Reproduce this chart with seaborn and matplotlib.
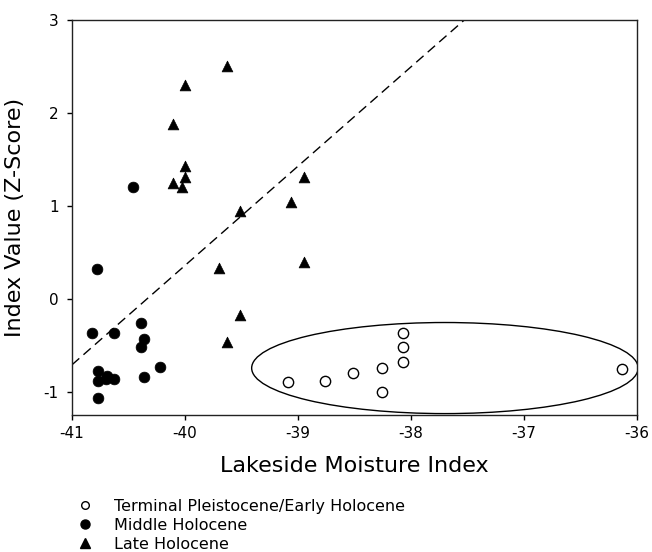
import numpy as np
import pandas as pd
import matplotlib
matplotlib.use("Agg")
import matplotlib.pyplot as plt
from matplotlib.lines import Line2D
from matplotlib.patches import Ellipse
import seaborn as sns

# ---- data ----
early_x = [-39.09, -38.76, -38.51, -38.26, -38.26, -38.07, -38.07, -38.07, -36.13]
early_y = [-0.90, -0.88, -0.80, -0.74, -1.00, -0.68, -0.52, -0.37, -0.75]

middle_x = [-40.775, -40.82, -40.63, -40.39, -40.36, -40.39, -40.22, -40.36,
            -40.77, -40.77, -40.69, -40.70, -40.63, -40.77, -40.456]
middle_y = [0.32, -0.37, -0.37, -0.255, -0.435, -0.515, -0.73, -0.84,
            -0.78, -0.88, -0.83, -0.86, -0.86, -1.07, 1.205]

late_x = [-39.63, -40.0, -40.11, -40.0, -40.0, -40.11, -40.03, -39.51,
          -39.06, -38.95, -39.70, -38.95, -39.51, -39.63]
late_y = [2.50, 2.30, 1.88, 1.43, 1.31, 1.25, 1.20, 0.94,
          1.04, 1.31, 0.33, 0.40, -0.17, -0.46]

line_x = [-41.0, -37.5]
line_y = [-0.71, 3.03]

ellipse_center = (-37.70, -0.745)
ellipse_width = 3.42
ellipse_height = 0.98

labels = ["Terminal Pleistocene/Early Holocene", "Middle Holocene", "Late Holocene"]
x_ticks = [-41, -40, -39, -38, -37, -36]
y_ticks = [-1, 0, 1, 2, 3]

sns.set_theme(style="white")
plt.rcParams['font.family'] = ['DejaVu Sans']
plt.rcParams['text.color'] = 'black'
plt.rcParams['axes.labelcolor'] = 'black'
plt.rcParams['xtick.color'] = 'black'
plt.rcParams['ytick.color'] = 'black'
plt.rcParams['xtick.labelcolor'] = 'black'
plt.rcParams['ytick.labelcolor'] = 'black'

fig = plt.figure(figsize=(6.52, 5.52), dpi=100)
ax = fig.add_axes([0.1104, 0.2482, 0.8666, 0.7156])

df_e = pd.DataFrame({"x": early_x, "y": early_y})
df_m = pd.DataFrame({"x": middle_x, "y": middle_y})
df_l = pd.DataFrame({"x": late_x, "y": late_y})

sns.lineplot(x=line_x, y=line_y, ax=ax, color="black", linestyle=(0, (7, 4)),
             linewidth=1.0, zorder=1)
sns.scatterplot(data=df_e, x="x", y="y", ax=ax, marker="o", s=55,
                facecolor="white", edgecolor="black", linewidth=1.0, zorder=3)
sns.scatterplot(data=df_m, x="x", y="y", ax=ax, marker="o", s=60,
                color="black", edgecolor="black", linewidth=0.5, zorder=3)
sns.scatterplot(data=df_l, x="x", y="y", ax=ax, marker="^", s=60,
                color="black", edgecolor="black", linewidth=0.5, zorder=3)

ax.add_patch(Ellipse(ellipse_center, ellipse_width, ellipse_height,
                     fill=False, edgecolor="black", linewidth=1.0, zorder=2))

ax.set_xlim(-41, -36)
ax.set_ylim(-1.25, 3)
ax.set_xticks(x_ticks)
ax.set_yticks(y_ticks)
ax.set_xticklabels([str(t) for t in x_ticks])
ax.set_yticklabels([str(t) for t in y_ticks])
ax.tick_params(axis="both", which="major", direction="out", length=3.6, width=1,
               color="black", labelcolor="black", labelsize=11, bottom=True,
               left=True, top=False, right=False)
ax.tick_params(axis="x", pad=4)
ax.tick_params(axis="y", pad=6)
for sp in ax.spines.values():
    sp.set_color("#222222")
    sp.set_linewidth(1.0)

ax.set_xlabel("Lakeside Moisture Index", fontsize=16, labelpad=11, color="black")
ax.set_ylabel("Index Value (Z-Score)", fontsize=16, labelpad=13, color="black")

handles = [
    Line2D([], [], marker="o", linestyle="none", markersize=5.5,
           markerfacecolor="white", markeredgecolor="black", markeredgewidth=1.0),
    Line2D([], [], marker="o", linestyle="none", markersize=6.5,
           markerfacecolor="black", markeredgecolor="black"),
    Line2D([], [], marker="^", linestyle="none", markersize=6.5,
           markerfacecolor="black", markeredgecolor="black"),
]
fig.legend(handles, labels, loc="upper left", bbox_to_anchor=(0.118, 0.096),
           frameon=False, fontsize=11.5, handlelength=1.0, handletextpad=1.3,
           labelspacing=0.25, borderpad=0, borderaxespad=0, labelcolor="black")

fig.savefig("out.png", dpi=100)
